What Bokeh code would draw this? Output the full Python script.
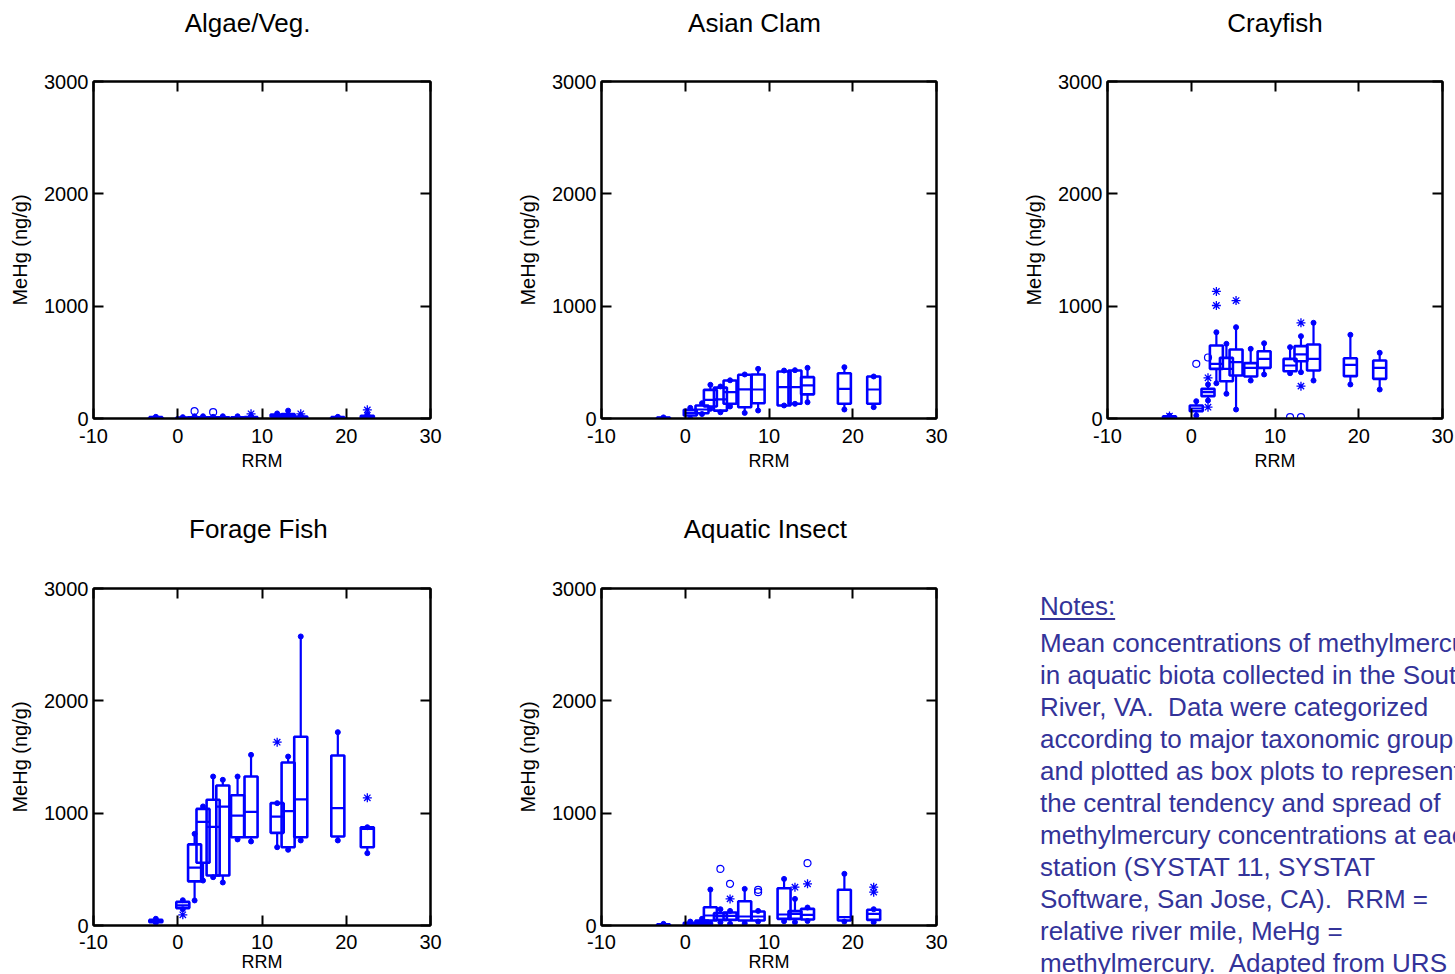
import numpy as np
from bokeh.plotting import figure
from bokeh.models import LinearAxis, Range1d, FixedTicker, ColumnDataSource, Div
from bokeh.layouts import row, column
from bokeh.embed import file_html
from bokeh.resources import INLINE

FONT = "Liberation Sans"
BLUE = "#0000ff"
NOTE_COLOR = "#333399"
NBSP = "\u00a0"

X_TICKS = [-10, 0, 10, 20, 30]
Y_TICKS = [0, 1000, 2000, 3000]

# station positions (relative river mile)
RRM = [-2.6, 0.6, 2.0, 3.0, 4.2, 5.35, 7.1, 8.7, 11.8, 13.1, 14.6, 19.0, 22.5]

# ---- Algae/Veg. ----
ALGAE_LO = [0, 0, 0, 0, 0, 0, 0, 0, 5, 5, 3, 0, 0]
ALGAE_Q1 = [2, 2, 2, 2, 2, 2, 2, 5, 15, 15, 6, 3, 5]
ALGAE_MED = [5, 5, 5, 5, 5, 5, 5, 8, 25, 25, 10, 6, 12]
ALGAE_Q3 = [12, 8, 10, 10, 10, 10, 10, 12, 35, 40, 18, 12, 25]
ALGAE_HI = [15, 12, 20, 20, 15, 20, 20, 20, 45, 70, 25, 15, 35]
ALGAE_CIRC_X = [2.0, 4.2]
ALGAE_CIRC_Y = [65, 56]
ALGAE_STAR_X = [8.7, 14.6, 22.5]
ALGAE_STAR_Y = [42, 42, 77]

# ---- Asian Clam ----
CLAM_LO = [0, 0, 40, 86, 55, 107, 50, 71, 116, 131, 145, 80, 101]
CLAM_Q1 = [2, 27, 47, 107, 70, 131, 100, 136, 116, 131, 215, 131, 131]
CLAM_MED = [5, 50, 80, 166, 170, 234, 260, 258, 280, 280, 294, 264, 258]
CLAM_Q3 = [8, 77, 116, 255, 275, 338, 390, 392, 418, 427, 368, 403, 374]
CLAM_HI = [10, 95, 136, 300, 285, 340, 392, 442, 427, 430, 451, 457, 374]
CLAM_CIRC_X = []
CLAM_CIRC_Y = []
CLAM_STAR_X = []
CLAM_STAR_Y = []

# ---- Crayfish ----
CRAY_LO = [0, 27, 160, 314, 220, 80, 338, 392, 403, 412, 338, 303, 258]
CRAY_Q1 = [5, 65, 199, 442, 332, 383, 374, 451, 421, 510, 427, 377, 353]
CRAY_MED = [10, 89, 234, 487, 442, 501, 451, 531, 472, 570, 531, 478, 451]
CRAY_Q3 = [20, 116, 264, 650, 540, 614, 493, 599, 531, 644, 659, 537, 516]
CRAY_HI = [25, 154, 303, 768, 665, 813, 620, 670, 635, 733, 852, 745, 585]
CRAY_CIRC_X = [0.6, 2.0, 11.8, 13.1]
CRAY_CIRC_Y = [487, 543, 12, 12]
CRAY_STAR_X = [-2.6, 2.0, 2.0, 3.0, 3.0, 5.35, 13.1, 13.1]
CRAY_STAR_Y = [22, 362, 101, 1131, 1006, 1050, 852, 288]

# ---- Forage Fish ----
FISH_LO = [25, 145, 223, 400, 430, 383, 766, 748, 697, 674, 757, 757, 644]
FISH_Q1 = [30, 155, 393, 558, 445, 445, 786, 786, 825, 697, 786, 792, 697]
FISH_MED = [40, 180, 516, 923, 878, 1059, 979, 1012, 970, 1018, 1122, 1045, 860]
FISH_Q3 = [50, 210, 722, 1038, 1119, 1246, 1160, 1326, 1089, 1451, 1680, 1513, 875]
FISH_HI = [60, 225, 816, 1060, 1326, 1297, 1326, 1519, 1089, 1504, 2573, 1721, 875]
FISH_CIRC_X = []
FISH_CIRC_Y = []
FISH_STAR_X = [0.6, 11.8, 22.5]
FISH_STAR_Y = [95, 1632, 1137]

# ---- Aquatic Insect ----
INS_LO = [0, 0, 5, 20, 27, 15, 21, 35, 38, 30, 40, 35, 30]
INS_Q1 = [3, 8, 15, 45, 50, 50, 45, 45, 59, 59, 53, 45, 50]
INS_MED = [6, 15, 30, 89, 83, 86, 80, 80, 98, 104, 95, 74, 104]
INS_Q3 = [10, 25, 45, 163, 110, 116, 216, 125, 332, 128, 148, 318, 140]
INS_HI = [15, 35, 60, 320, 145, 130, 326, 130, 415, 237, 160, 460, 145]
INS_CIRC_X = [4.2, 5.35, 8.7, 8.7, 14.6]
INS_CIRC_Y = [504, 371, 318, 297, 555]
INS_STAR_X = [5.35, 13.1, 14.6, 22.5, 22.5]
INS_STAR_Y = [237, 341, 371, 341, 297]

NOTES_TITLE = "Notes:"
NOTES_LINES = [
    "Mean concentrations of methylmercury",
    "in aquatic biota collected in the South",
    "River, VA.  Data were categorized",
    "according to major taxonomic group",
    "and plotted as box plots to represent",
    "the central tendency and spread of",
    "methylmercury concentrations at each",
    "station (SYSTAT 11, SYSTAT",
    "Software, San Jose, CA).  RRM =",
    "relative river mile, MeHg =",
    "methylmercury.  Adapted from URS",
]

FRAME = 337
TOP_B = 81


def style_axis(ax):
    ax.axis_line_width = 2
    ax.axis_line_color = "black"
    ax.major_tick_in = 10
    ax.major_tick_out = 0
    ax.major_tick_line_width = 2
    ax.major_tick_line_color = "black"
    ax.minor_tick_in = 10
    ax.minor_tick_out = 0
    ax.minor_tick_line_width = 2
    ax.minor_tick_line_color = "black"
    ax.major_label_text_font = FONT
    ax.major_label_text_color = "black"
    ax.major_label_text_font_size = "20px"
    ax.axis_label_text_font = FONT
    ax.axis_label_text_font_style = "normal"
    ax.axis_label_text_color = "black"


def panel(name, pad, lo, q1, med, q3, hi, cx, cy, sx, sy, width, height,
          left_b, right_b, top_b, bottom_b, title_standoff, tick_standoff, xlabel_standoff):
    p = figure(width=width, height=height,
               x_range=Range1d(-10, 30), y_range=Range1d(0, 3000),
               output_backend="svg", toolbar_location=None,
               min_border_left=left_b, min_border_right=right_b,
               min_border_top=top_b, min_border_bottom=bottom_b,
               title_location=None)
    p.xgrid.visible = False
    p.ygrid.visible = False
    p.outline_line_color = "black"
    p.outline_line_width = 2
    p.background_fill_color = "white"
    p.border_fill_color = "white"

    xa = p.xaxis[0]
    ya = p.yaxis[0]
    xa.ticker = FixedTicker(ticks=X_TICKS, minor_ticks=[])
    ya.ticker = FixedTicker(ticks=Y_TICKS, minor_ticks=[])
    style_axis(xa)
    style_axis(ya)
    xa.major_label_overrides = {t: str(t) for t in X_TICKS}
    xa.major_label_standoff = tick_standoff
    ya.major_label_standoff = 5
    ya.axis_label = "MeHg (ng/g)"
    ya.axis_label_text_font_size = "20px"
    ya.axis_label_standoff = 10
    xa.axis_label = "RRM"
    xa.axis_label_text_font_size = "18px"
    xa.axis_label_standoff = xlabel_standoff

    # frame ticks on top (carrying the panel title) and right (minor ticks only: no labels)
    top = LinearAxis(ticker=FixedTicker(ticks=[], minor_ticks=X_TICKS))
    style_axis(top)
    top.major_label_standoff = 0
    top.axis_label = name + NBSP * pad
    top.axis_label_text_font_size = "26px"
    top.axis_label_standoff = title_standoff
    p.add_layout(top, "above")
    right = LinearAxis(ticker=FixedTicker(ticks=[], minor_ticks=Y_TICKS))
    style_axis(right)
    p.add_layout(right, "right")

    src = ColumnDataSource(dict(x=RRM, lo=lo, q1=q1, med=med, q3=q3, hi=hi))
    p.segment(x0="x", y0="lo", x1="x", y1="q1", source=src, line_color=BLUE, line_width=2.2)
    p.segment(x0="x", y0="q3", x1="x", y1="hi", source=src, line_color=BLUE, line_width=2.2)
    p.scatter("x", "lo", source=src, size=5, color=BLUE)
    p.scatter("x", "hi", source=src, size=5, color=BLUE)
    p.vbar(x="x", width=1.55, bottom="q1", top="q3", source=src,
           fill_color=None, line_color=BLUE, line_width=2.6)
    p.scatter("x", "med", source=src, marker="dash", size=13,
              line_color=BLUE, line_width=2.2)
    if cx:
        p.scatter(cx, cy, marker="circle", size=7, fill_color=None,
                  line_color=BLUE, line_width=1.2)
    if sx:
        p.scatter(sx, sy, marker="asterisk", size=9, line_color=BLUE, line_width=1.3)
    return p


H_TOP = 510
H_BOT = 464
B_TOP = H_TOP - TOP_B - FRAME      # 92
TOP_B2 = 78
B_BOT = H_BOT - TOP_B2 - FRAME     # 49

p1 = panel("Algae/Veg.", 4, ALGAE_LO, ALGAE_Q1, ALGAE_MED, ALGAE_Q3, ALGAE_HI,
           ALGAE_CIRC_X, ALGAE_CIRC_Y, ALGAE_STAR_X, ALGAE_STAR_Y,
           514, H_TOP, 93, 84, TOP_B, B_TOP, 44, 10, 5)
p2 = panel("Asian Clam", 4, CLAM_LO, CLAM_Q1, CLAM_MED, CLAM_Q3, CLAM_HI,
           CLAM_CIRC_X, CLAM_CIRC_Y, CLAM_STAR_X, CLAM_STAR_Y,
           506, H_TOP, 85, 84, TOP_B, B_TOP, 44, 10, 5)
p3 = panel("Crayfish", 0, CRAY_LO, CRAY_Q1, CRAY_MED, CRAY_Q3, CRAY_HI,
           CRAY_CIRC_X, CRAY_CIRC_Y, CRAY_STAR_X, CRAY_STAR_Y,
           435, H_TOP, 85, 13, TOP_B, B_TOP, 44, 10, 5)
p4 = panel("Forage Fish", 1, FISH_LO, FISH_Q1, FISH_MED, FISH_Q3, FISH_HI,
           FISH_CIRC_X, FISH_CIRC_Y, FISH_STAR_X, FISH_STAR_Y,
           514, H_BOT, 93, 84, TOP_B2, B_BOT, 45, 9, 0)
p5 = panel("Aquatic Insect", 1, INS_LO, INS_Q1, INS_MED, INS_Q3, INS_HI,
           INS_CIRC_X, INS_CIRC_Y, INS_STAR_X, INS_STAR_Y,
           506, H_BOT, 85, 84, TOP_B2, B_BOT, 45, 9, 0)

# notes block (HTML text, clipped at the right edge like the original)
NW = 435
body_html = "<br>".join(NOTES_LINES)
notes_html = (
    f'<div style="position:relative;width:{NW}px;height:{H_BOT}px;overflow:hidden;'
    f'font-family:\'{FONT}\';font-size:26px;color:{NOTE_COLOR};white-space:pre;background:white;">'
    f'<div style="position:absolute;left:20px;top:80px;line-height:32px;'
    f'text-decoration:underline;text-decoration-thickness:2px;text-underline-offset:3px;">{NOTES_TITLE}</div>'
    f'<div style="position:absolute;left:20px;top:117px;line-height:32px;">{body_html}</div>'
    f'</div>'
)
notes = Div(text=notes_html, width=NW, height=H_BOT, margin=(0, 0, 0, 0),
            styles={"overflow": "hidden"})

layout = column(row(p1, p2, p3), row(p4, p5, notes))

open("out.html", "w").write(file_html(layout, INLINE))
